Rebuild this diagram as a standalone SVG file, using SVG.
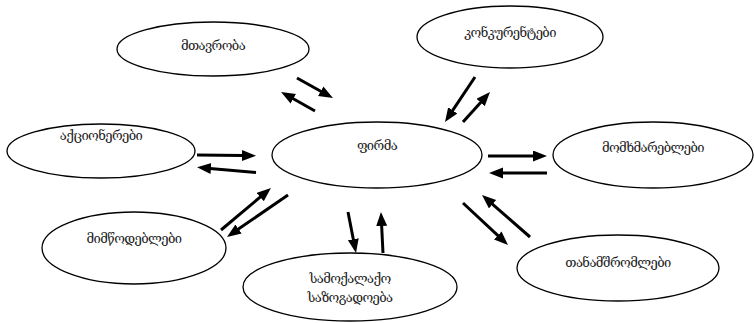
<svg xmlns="http://www.w3.org/2000/svg" width="754" height="323" viewBox="0 0 754 323">
<style>
.n ellipse{fill:#fff;stroke:#000;stroke-width:1.3}
.n text{font-family:"DejaVu Serif","DejaVu Sans",serif;font-size:13px;letter-spacing:-0.6px;fill:#222;text-anchor:middle}
.c line{stroke:#000;stroke-width:3;marker-end:url(#ah)}
</style>
<defs>
<marker id="ah" markerUnits="userSpaceOnUse" markerWidth="15" markerHeight="12" refX="1" refY="5.5" orient="auto">
<path d="M0,0 L14,5.5 L0,11 z" fill="#000"/>
</marker>
</defs>
<rect width="754" height="323" fill="#fff"/>
<g id="n-mtavroba" class="n"><ellipse cx="213" cy="49" rx="96" ry="27"/><text x="213" y="50">მთავრობა</text></g>
<g id="n-konkurentebi" class="n"><ellipse cx="510" cy="37" rx="93" ry="31"/><text x="510" y="37">კონკურენტები</text></g>
<g id="n-aktsionerebi" class="n"><ellipse cx="101" cy="151" rx="94" ry="27"/><text x="101" y="140">აქციონერები</text></g>
<g id="n-firma" class="n"><ellipse cx="377" cy="155" rx="105" ry="33"/><text x="377" y="150">ფირმა</text></g>
<g id="n-momkhmareblebi" class="n"><ellipse cx="653" cy="155" rx="100" ry="33"/><text x="653" y="152">მომხმარებლები</text></g>
<g id="n-mimtsodeblebi" class="n"><ellipse cx="134" cy="248" rx="92" ry="36"/><text x="134" y="243">მიმწოდებლები</text></g>
<g id="n-samokalako" class="n"><ellipse cx="350" cy="287" rx="107" ry="34"/><text x="350" y="283">სამოქალაქო</text><text x="350" y="302">საზოგადოება</text></g>
<g id="n-tanamshromlebi" class="n"><ellipse cx="618" cy="268" rx="101" ry="33"/><text x="618" y="267">თანამშრომლები</text></g>
<g id="connectors" class="c">
<line x1="297" y1="78" x2="321.6" y2="91.7"/>
<line x1="315" y1="111" x2="292.4" y2="98.3"/>
<line x1="197" y1="155" x2="243" y2="155.5"/>
<line x1="256" y1="172.5" x2="210" y2="168.4"/>
<line x1="475" y1="77" x2="452.2" y2="111.2"/>
<line x1="463" y1="122" x2="481.3" y2="101.7"/>
<line x1="488" y1="156" x2="534" y2="156"/>
<line x1="547" y1="173" x2="502" y2="173"/>
<line x1="221" y1="230" x2="261" y2="196.4"/>
<line x1="288" y1="195" x2="237.7" y2="229.6"/>
<line x1="348" y1="212" x2="353.5" y2="240.2"/>
<line x1="383" y1="253" x2="381.6" y2="225"/>
<line x1="463" y1="203" x2="498.5" y2="236.1"/>
<line x1="530" y1="237" x2="491.8" y2="203.6"/>
</g>
</svg>
